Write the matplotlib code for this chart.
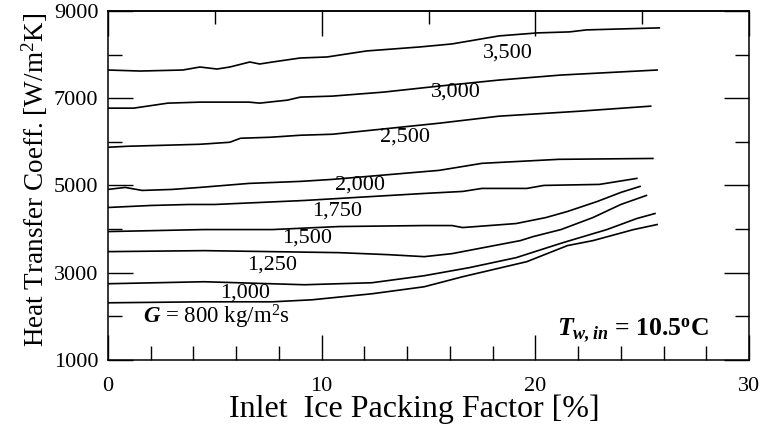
import matplotlib
matplotlib.use("Agg")
import matplotlib.pyplot as plt
from matplotlib.ticker import MultipleLocator, FixedLocator, NullFormatter

plt.rcParams["font.family"] = ["Liberation Serif", "DejaVu Serif"]
plt.rcParams["mathtext.fontset"] = "custom"
plt.rcParams["mathtext.rm"] = "Liberation Serif"
plt.rcParams["mathtext.it"] = "Liberation Serif:italic"
plt.rcParams["mathtext.bf"] = "Liberation Serif:bold"
plt.rcParams["mathtext.bfit"] = "Liberation Serif:bold:italic"

# Data (ice packing factor [%], h [W/m2K])
x_800 = [0, 4.5, 7.7, 9.55, 12.35, 14.8, 16.6, 19.6, 21.5, 22.7, 24.6, 25.7]
h_800 = [2311, 2334, 2334, 2380, 2518, 2679, 2909, 3254, 3622, 3737, 3990, 4105]

x_1000 = [0, 4.5, 9.2, 12.35, 14.8, 16.9, 19.1, 21.3, 23.35, 24.75, 25.6]
h_1000 = [2748, 2794, 2725, 2771, 2932, 3116, 3346, 3691, 3990, 4243, 4358]

x_1250 = [0, 4.5, 10.8, 13.1, 14.8, 16.1, 19.3, 19.9, 21.2, 22.7, 24.0, 25.2]
h_1250 = [3484, 3507, 3461, 3415, 3369, 3438, 3737, 3829, 3990, 4266, 4565, 4772]

x_1500 = [0, 4.5, 7.7, 10.8, 14.8, 16.1, 16.6, 19.1, 20.5, 21.5, 22.9, 24.0, 24.9]
h_1500 = [3944, 3990, 3990, 4059, 4082, 4082, 4036, 4128, 4266, 4404, 4634, 4841, 4979]

x_1750 = [0, 2.0, 3.8, 5.0, 9.2, 14.8, 16.6, 17.5, 19.6, 20.4, 23.0, 24.75]
h_1750 = [4496, 4542, 4565, 4565, 4657, 4818, 4864, 4933, 4933, 5002, 5025, 5163]

x_2000 = [0, 0.8, 1.6, 3.0, 4.3, 6.6, 9.0, 10.5, 15.5, 17.5, 21.1, 25.5]
h_2000 = [4910, 4956, 4887, 4910, 4956, 5048, 5094, 5140, 5347, 5508, 5600, 5620]

x_2500 = [0, 0.9, 4.3, 5.7, 6.2, 7.6, 9.0, 10.5, 15.5, 18.3, 22.1, 25.4]
h_2500 = [5876, 5899, 5945, 5991, 6083, 6106, 6152, 6175, 6428, 6589, 6704, 6819]

x_3000 = [0, 1.2, 2.8, 4.3, 6.6, 7.1, 8.4, 9.0, 10.5, 12.9, 15.5, 18.3, 21.2, 25.7]
h_3000 = [6773, 6773, 6888, 6911, 6911, 6888, 6957, 7026, 7049, 7141, 7279, 7417, 7532, 7647]

x_3500 = [0, 1.5, 3.5, 4.3, 5.1, 5.7, 6.64, 7.1, 7.7, 9.0, 10.25, 12.1, 14.6,
          16.1, 18.3, 20.1, 21.6, 22.4, 25.8]
h_3500 = [7647, 7624, 7647, 7716, 7670, 7716, 7831, 7785, 7831, 7923, 7946, 8084, 8176,
          8245, 8429, 8498, 8521, 8567, 8613]

series = [(x_800, h_800), (x_1000, h_1000), (x_1250, h_1250), (x_1500, h_1500),
          (x_1750, h_1750), (x_2000, h_2000), (x_2500, h_2500), (x_3000, h_3000),
          (x_3500, h_3500)]

# Curve labels (mass flux) and where they sit
label_text = ["1,000", "1,250", "1,500", "1,750", "2,000", "2,500", "3,000", "3,500"]
label_x = [6.4, 7.7, 9.3, 10.7, 11.8, 13.9, 16.3, 18.7]
label_y = [2541, 3185, 3806, 4404, 5002, 6106, 7141, 8038]

fig = plt.figure(figsize=(7.64, 4.28), dpi=100)
ax = fig.add_axes([108 / 764, 1 - 360 / 428, (749 - 108) / 764, (360 - 11) / 428])

for xs, hs in series:
    ax.plot(xs, hs, color="black", lw=1.2)

for t, lx, ly in zip(label_text, label_x, label_y):
    ax.text(lx, ly, t, ha="center", va="center", fontsize=16)

ax.text(1.64, 1828, r"$\mathbfit{G}$ = 800 kg/m$^2$s", ha="left", va="baseline", fontsize=16.5)
ax.text(21.0, 1552, r"$\mathbfit{T}_{\mathbfit{w,in}}$ = 10.5$^{\mathbf{o}}$C",
        ha="left", va="baseline", fontsize=18.5, fontweight="bold")

ax.set_xlim(0, 30)
ax.set_ylim(1000, 9000)

ax.xaxis.set_major_locator(FixedLocator([0, 10, 20, 30]))
ax.xaxis.set_minor_locator(MultipleLocator(2))
ax.yaxis.set_major_locator(FixedLocator([1000, 3000, 5000, 7000, 9000]))
ax.yaxis.set_minor_locator(FixedLocator([2000, 4000, 6000, 8000]))

ax.tick_params(which="both", direction="in", right=True, top=False, width=1.0)
ax.tick_params(which="major", length=18, labelsize=16)
ax.tick_params(which="minor", length=10)
ax.tick_params(axis="x", which="major", pad=12)
ax.tick_params(axis="y", which="major", pad=7)

top = ax.secondary_xaxis("top")
top.xaxis.set_major_locator(FixedLocator([0, 10, 20, 30]))
top.xaxis.set_minor_locator(FixedLocator([5, 15, 25]))
top.xaxis.set_major_formatter(NullFormatter())
top.tick_params(which="both", direction="in", width=1.0)
top.tick_params(which="major", length=18)
top.tick_params(which="minor", length=9)

for sp in ax.spines.values():
    sp.set_linewidth(1.1)
top.spines["top"].set_linewidth(1.1)

ax.set_xlabel("Inlet  Ice Packing Factor [%]", fontsize=23, labelpad=-1)
ax.set_ylabel(r"Heat Transfer Coeff. [W/m$^2$K]", fontsize=19.5, labelpad=3)
# the original labels sit a little off-centre
ax.xaxis.label.set_x(0.478)
ax.yaxis.label.set_y(0.515)

fig.savefig("out.png", dpi=100)
plt.close(fig)
